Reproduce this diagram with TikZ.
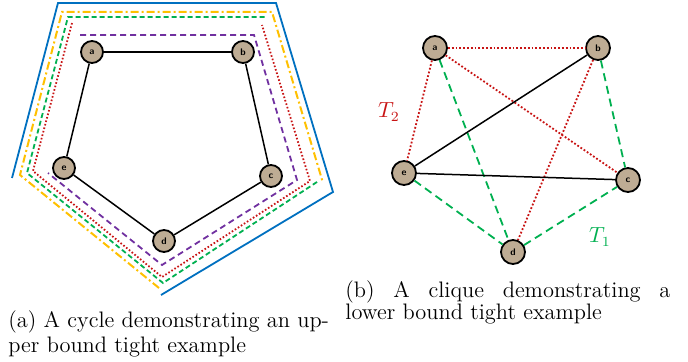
\documentclass[tikz,border=0pt]{standalone}
\usepackage{xcolor}
\definecolor{nodefill}{RGB}{190,172,148}
\definecolor{cblue}{RGB}{0,112,192}
\definecolor{corange}{RGB}{255,192,0}
\definecolor{cgreen}{RGB}{0,176,80}
\definecolor{cred}{RGB}{200,20,20}
\definecolor{cpurple}{RGB}{112,48,160}
\begin{document}
\begin{tikzpicture}[x=0.5pt,y=-0.5pt,
  vtx/.style={circle, draw, line width=0.9pt, fill=nodefill, minimum size=11pt, inner sep=0pt,
    font=\sffamily\bfseries\fontsize{4.8}{5}\selectfont},
  rvtx/.style={vtx, minimum size=12pt},
  blackedge/.style={line width=0.75pt, black},
  blueline/.style={cblue, line width=0.9pt},
  orangeline/.style={corange, line width=1pt, dash pattern=on 4pt off 1.5pt on 1pt off 1.5pt},
  greenline/.style={cgreen, line width=0.9pt, dash pattern=on 2.5pt off 1.5pt},
  redline/.style={cred, line width=0.9pt, dash pattern=on 0.8pt off 1pt},
  purpleline/.style={cpurple, line width=0.9pt, dash pattern=on 3pt off 2pt},
  rgreen/.style={cgreen, line width=0.9pt, dash pattern=on 4pt off 2.5pt},
  rred/.style={cred, line width=0.9pt, dash pattern=on 0.9pt off 1pt},
  captext/.style={anchor=base west, inner sep=0pt, font=\fontsize{11.2}{13}\selectfont},
  line join=miter]
\useasboundingbox (0,0) rectangle (688,362);

% ---- left panel: nested outlines ----
\draw[blueline] (12,178) -- (58,3) -- (276,3) -- (333,192) -- (161,295);
\draw[orangeline] (159,288) -- (20,175) -- (62,12) -- (272,12) -- (323,183);
\draw[greenline] (317,182) -- (163,283) -- (27,173) -- (68,17) -- (265,17);
\draw[redline] (72,23) -- (33,171) -- (162,277) -- (310,181) -- (262,25);
\draw[purpleline] (80,35) -- (254,35) -- (297,180) -- (162,265) -- (48,173);

% ---- left panel: cycle ----
\node[vtx] (la) at (92,52) {a};
\node[vtx] (lb) at (243,52) {b};
\node[vtx] (lc) at (271,176) {c};
\node[vtx] (ld) at (164,241) {d};
\node[vtx] (le) at (64,168) {e};
\draw[blackedge] (la) -- (lb);
\draw[blackedge] (lb) -- (lc);
\draw[blackedge] (lc) -- (ld);
\draw[blackedge] (ld) -- (le);
\draw[blackedge] (le) -- (la);

% ---- right panel: clique ----
\node[rvtx] (ra) at (435,48) {a};
\node[rvtx] (rb) at (598,48) {b};
\node[rvtx] (rc) at (628,180) {c};
\node[rvtx] (rd) at (513,252) {d};
\node[rvtx] (re) at (404,173) {e};
\draw[rred] (ra) -- (rb);
\draw[rred] (ra) -- (re);
\draw[rred] (ra) -- (rc);
\draw[rred] (rb) -- (rd);
\draw[rgreen] (ra) -- (rd);
\draw[rgreen] (rb) -- (rc);
\draw[rgreen] (re) -- (rd);
\draw[rgreen] (rd) -- (rc);
\draw[blackedge] (rb) -- (re);
\draw[blackedge] (re) -- (rc);
\node[text=cred, font=\fontsize{10.5}{12}\selectfont] (t2) at (389,112) {$T_2$};
\node[text=cgreen, font=\fontsize{10.5}{12}\selectfont] (t1) at (600,237) {$T_1$};

% ---- captions ----
\node[captext] (ca1) at (8,327) {(a) A cycle demonstrating an up-};
\node[captext] (ca2) at (8,352) {per bound tight example};
\node[captext] (cb1) at (345,298) {\makebox[162.5pt][s]{(b) A clique demonstrating a}};
\node[captext] (cb2) at (345,319) {lower bound tight example};
\end{tikzpicture}
\end{document}
